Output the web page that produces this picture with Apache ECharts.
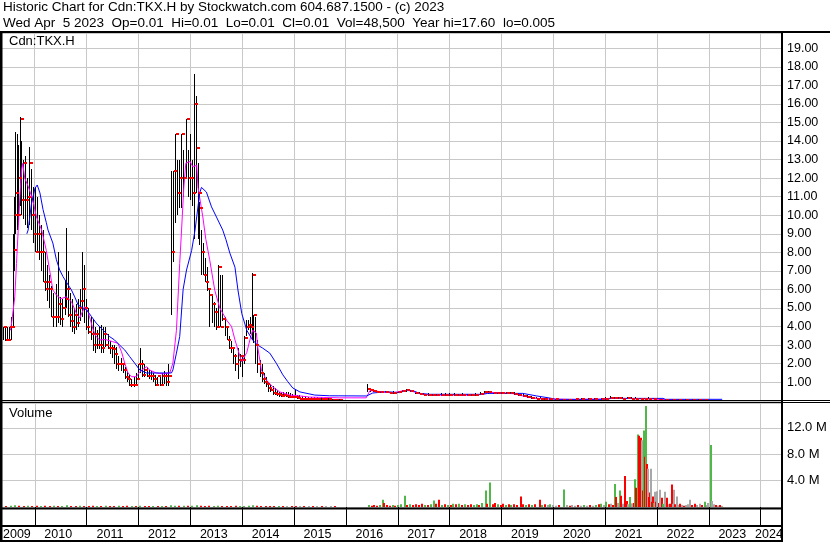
<!DOCTYPE html>
<html><head><meta charset="utf-8">
<script src="https://cdn.jsdelivr.net/npm/echarts@6.0.0/dist/echarts.min.js"></script>
<style>html,body{margin:0;padding:0;background:#fff}#c{width:830px;height:543px}</style>
</head><body><div id="c"></div>
<script>
// ---------------- DATA ----------------
const headerLine1 = 'Historic Chart for Cdn:TKX.H by Stockwatch.com 604.687.1500 - (c) 2023';
const headerLine2 = 'Wed Apr  5 2023  Op=0.01  Hi=0.01  Lo=0.01  Cl=0.01  Vol=48,500  Year hi=17.60  lo=0.005';
const symbolLabel = 'Cdn:TKX.H';
const volumeLabel = 'Volume';

const yearTicks = ['2010-01-01','2011-01-01','2012-01-01','2013-01-01','2014-01-01','2015-01-01','2016-01-01','2017-01-01','2018-01-01','2019-01-01','2020-01-01','2021-01-01','2022-01-01','2023-01-01','2024-01-01'];
const yearLabelAt = ['2009-08-28','2010-06-15','2011-06-15','2012-06-15','2013-06-15','2014-06-15','2015-06-15','2016-06-15','2017-06-15','2018-06-15','2019-06-15','2020-06-15','2021-06-15','2022-06-15','2023-06-15','2024-02-28'];
const xStart = '2009-05-18';
const xEnd = '2024-05-23';

const barDates = [
'2009-05-22','2009-06-05','2009-06-19','2009-07-03','2009-07-17','2009-07-31','2009-08-10','2009-08-21','2009-08-31','2009-09-10','2009-09-20','2009-09-30','2009-10-12','2009-10-26','2009-11-09','2009-11-23','2009-12-07','2009-12-21',
'2010-01-04','2010-01-18','2010-02-01','2010-02-15','2010-03-01','2010-03-15','2010-04-01','2010-04-15','2010-05-01','2010-05-15','2010-06-01','2010-06-15','2010-07-01','2010-07-15','2010-08-01','2010-08-12','2010-08-25','2010-09-08','2010-09-22','2010-10-06','2010-10-20','2010-11-03','2010-11-17','2010-12-01','2010-12-15',
'2011-01-01','2011-01-15','2011-02-01','2011-02-15','2011-03-01','2011-03-15','2011-04-01','2011-04-15','2011-05-01','2011-05-15','2011-06-01','2011-06-15','2011-07-01','2011-07-15','2011-08-01','2011-08-15','2011-09-01','2011-09-15','2011-10-01','2011-10-15','2011-11-01','2011-11-15','2011-12-01','2011-12-15',
'2012-01-01','2012-01-15','2012-02-01','2012-02-15','2012-03-01','2012-03-15','2012-04-01','2012-04-15','2012-05-01','2012-05-15','2012-06-01','2012-06-15','2012-07-01','2012-07-15','2012-08-01','2012-08-20','2012-09-03','2012-09-17','2012-10-01','2012-10-15','2012-11-01','2012-11-15','2012-12-01','2012-12-15',
'2013-01-01','2013-01-15','2013-02-01','2013-02-12','2013-02-25','2013-03-08','2013-03-20','2013-04-01','2013-04-15','2013-05-01','2013-05-15','2013-06-01','2013-06-15','2013-07-01','2013-07-15','2013-08-01','2013-08-15','2013-09-01','2013-09-15','2013-10-01','2013-10-15','2013-11-01','2013-11-15','2013-12-01','2013-12-15',
'2014-01-01','2014-01-15','2014-02-01','2014-02-15','2014-03-01','2014-03-10','2014-03-22','2014-04-05','2014-04-20','2014-05-05','2014-05-20','2014-06-05','2014-06-20','2014-07-05','2014-07-20','2014-08-05','2014-08-20','2014-09-05','2014-09-20','2014-10-05','2014-10-20','2014-11-05','2014-11-20','2014-12-05','2014-12-20',
'2015-01-10','2015-01-25','2015-02-10','2015-03-01','2015-03-20','2015-04-10','2015-05-01','2015-05-25','2015-06-15','2015-07-10','2015-08-05','2015-09-01','2015-09-25','2015-10-20','2015-11-15',
'2016-06-01','2016-06-20','2016-07-10','2016-08-01','2016-09-01','2016-10-01','2016-11-01','2016-12-01',
'2017-01-01','2017-02-01','2017-03-01','2017-04-01','2017-05-01','2017-06-01','2017-07-01','2017-08-01','2017-09-01','2017-10-01','2017-11-01','2017-12-01',
'2018-01-01','2018-02-01','2018-03-01','2018-04-01','2018-05-01','2018-06-01','2018-07-01','2018-08-01','2018-09-01','2018-10-01','2018-11-01','2018-12-01',
'2019-01-01','2019-02-01','2019-03-01','2019-04-01','2019-05-01','2019-06-01','2019-07-01','2019-08-01','2019-09-01','2019-10-01','2019-11-01','2019-12-01',
'2020-01-15','2020-03-01','2020-04-15','2020-06-01','2020-07-15','2020-09-01','2020-10-15','2020-12-01',
'2021-01-01','2021-02-01','2021-03-01','2021-04-01','2021-05-01','2021-06-01','2021-07-01','2021-08-01','2021-09-01','2021-10-01','2021-11-01','2021-12-01',
'2022-01-15','2022-03-01','2022-04-15','2022-06-01','2022-07-15','2022-09-01','2022-10-15','2022-12-01',
'2023-01-15','2023-03-01','2023-04-05'];

const barHigh = [
4.0,4.0,4.0,4.0,4.5,9.0,11.0,14.5,14.4,13.8,15.3,14.0,13.0,13.2,12.0,13.7,12.5,11.5,
11.5,11.0,10.0,9.5,9.2,8.0,7.3,6.8,6.2,5.8,6.3,8.0,5.6,5.5,6.5,9.3,7.0,5.8,5.5,5.0,5.2,5.5,6.0,8.0,7.3,
5.5,5.0,4.5,4.4,4.0,3.8,4.0,4.1,4.0,4.0,3.6,3.2,3.0,3.0,2.9,2.4,2.3,2.0,1.8,1.6,1.4,1.2,1.3,1.5,
2.0,2.85,2.2,2.0,1.8,1.65,1.6,1.5,1.4,1.3,1.4,1.5,1.6,1.5,2.0,12.4,12.4,14.4,13.0,13.0,14.4,13.5,15.2,13.5,
14.4,13.0,17.6,16.4,12.8,10.7,9.2,8.5,7.7,7.2,6.0,5.7,5.3,5.0,7.3,6.8,6.8,4.5,4.0,3.5,3.2,2.9,2.5,2.85,2.5,
2.4,3.5,4.35,4.35,4.5,6.9,4.6,4.5,3.3,2.2,2.0,1.5,1.3,1.0,0.9,0.8,0.7,0.6,0.5,0.5,0.45,0.5,0.45,0.4,0.35,
0.65,0.3,0.3,0.25,0.25,0.2,0.2,0.18,0.2,0.2,0.15,0.15,0.12,0.12,0.12,
0.9,0.7,0.6,0.58,0.55,0.55,0.5,0.55,
0.55,0.6,0.65,0.6,0.5,0.45,0.42,0.4,0.38,0.38,0.4,0.4,
0.4,0.42,0.38,0.4,0.38,0.38,0.4,0.45,0.52,0.55,0.5,0.5,
0.48,0.5,0.48,0.45,0.42,0.35,0.3,0.25,0.2,0.18,0.15,0.14,
0.12,0.12,0.1,0.12,0.15,0.14,0.14,0.15,
0.2,0.25,0.22,0.2,0.2,0.22,0.2,0.18,0.16,0.15,0.18,0.16,
0.12,0.1,0.08,0.07,0.06,0.05,0.05,0.04,
0.03,0.02,0.01];

const barLow = [
3.3,3.2,3.3,3.2,3.3,4.0,7.0,9.0,9.2,9.5,10.5,10.0,9.8,9.5,9.3,9.5,9.2,8.5,
8.0,8.0,7.6,7.0,6.4,5.9,5.4,5.0,4.5,4.0,4.0,4.2,4.1,4.0,4.6,5.0,4.5,4.0,3.7,3.6,3.8,4.0,4.3,4.5,4.2,
3.8,3.6,3.3,2.7,2.6,2.8,2.8,2.6,2.6,2.9,2.8,2.5,2.3,2.0,1.7,1.6,1.6,1.5,1.2,1.0,0.8,0.75,0.75,0.8,
1.2,1.5,1.3,1.3,1.3,1.2,1.1,1.0,0.8,0.8,0.8,0.8,0.9,0.8,0.8,4.6,7.5,9.6,10.0,10.4,10.4,11.0,12.0,11.0,
10.8,10.5,8.7,11.2,8.7,8.4,6.8,6.8,6.4,5.9,4.0,4.2,4.0,3.8,4.0,4.0,4.3,3.5,3.3,2.8,2.6,2.0,1.6,1.2,1.8,
1.3,2.0,3.5,3.8,3.6,3.3,3.1,2.0,1.5,1.3,1.0,0.9,0.75,0.5,0.45,0.3,0.3,0.25,0.2,0.2,0.2,0.2,0.15,0.15,0.15,
0.15,0.1,0.1,0.1,0.08,0.08,0.08,0.08,0.08,0.06,0.06,0.06,0.05,0.05,0.05,
0.5,0.45,0.45,0.45,0.42,0.4,0.4,0.38,
0.4,0.45,0.48,0.45,0.38,0.35,0.3,0.28,0.26,0.27,0.28,0.28,
0.28,0.28,0.27,0.28,0.26,0.27,0.28,0.3,0.35,0.38,0.35,0.35,
0.36,0.36,0.34,0.3,0.28,0.2,0.15,0.12,0.1,0.08,0.07,0.06,
0.05,0.05,0.04,0.05,0.06,0.05,0.06,0.06,
0.07,0.1,0.1,0.1,0.09,0.1,0.1,0.09,0.08,0.08,0.08,0.08,
0.05,0.04,0.03,0.03,0.02,0.02,0.02,0.015,
0.01,0.005,0.01];

const barClose = [
4.0,3.3,3.3,4.0,4.0,8.1,10.0,11.2,10.0,12.0,15.2,10.8,12.8,10.8,11.0,12.8,10.0,9.0,
8.0,9.0,8.0,8.0,6.4,6.0,6.4,6.0,4.5,4.5,4.5,5.2,4.4,5.0,5.5,6.0,4.6,4.3,4.0,4.6,4.2,5.0,5.4,6.0,5.0,
4.0,3.7,3.6,3.0,3.6,3.0,3.0,2.85,3.6,3.0,2.85,2.85,2.8,2.5,2.0,2.0,2.0,1.65,1.3,1.2,0.85,0.85,0.85,1.2,
2.0,2.0,1.4,1.65,1.34,1.34,1.34,1.2,0.85,1.34,0.85,1.34,1.34,1.0,1.34,8.0,12.4,14.4,11.2,12.0,14.4,12.0,15.2,12.0,
12.0,11.2,16.0,13.6,11.2,10.4,8.0,6.8,6.4,6.0,5.7,5.2,4.8,4.0,7.2,4.0,4.4,4.0,3.28,2.85,2.85,2.4,2.0,2.2,2.4,
2.2,3.4,4.0,4.1,4.0,6.8,4.6,3.0,2.0,1.5,1.2,1.0,0.9,0.7,0.6,0.4,0.35,0.35,0.3,0.25,0.3,0.25,0.2,0.2,0.2,
0.2,0.15,0.12,0.12,0.1,0.1,0.1,0.1,0.1,0.08,0.08,0.08,0.06,0.06,0.06,
0.65,0.6,0.53,0.5,0.48,0.45,0.44,0.42,
0.5,0.55,0.58,0.55,0.42,0.38,0.33,0.3,0.3,0.3,0.32,0.32,
0.32,0.33,0.3,0.31,0.3,0.3,0.32,0.36,0.45,0.45,0.42,0.43,
0.42,0.42,0.4,0.38,0.33,0.25,0.18,0.15,0.12,0.1,0.09,0.08,
0.08,0.07,0.07,0.08,0.08,0.08,0.09,0.09,
0.12,0.15,0.14,0.13,0.12,0.13,0.12,0.11,0.1,0.1,0.11,0.1,
0.07,0.06,0.05,0.04,0.03,0.03,0.03,0.02,
0.015,0.01,0.01];

// short moving average (magenta)
const maFastDates = ['2009-07-16','2009-07-23','2009-08-16','2009-08-28','2009-09-09','2009-09-21','2009-10-02','2009-10-11','2009-10-25','2009-11-16','2009-11-30','2009-12-21',
'2010-01-16','2010-02-21','2010-03-26','2010-04-18','2010-05-11','2010-06-05','2010-07-05','2010-08-14','2010-09-19','2010-10-23','2010-11-16','2010-12-21',
'2011-01-14','2011-02-19','2011-03-12','2011-04-05','2011-05-17','2011-07-05','2011-08-12','2011-09-06','2011-09-29','2011-10-22','2011-11-15','2011-12-20',
'2012-01-13','2012-02-29','2012-03-22','2012-05-08','2012-06-22','2012-08-11','2012-09-02','2012-09-27','2012-10-20','2012-11-02','2012-11-18','2012-12-02',
'2013-01-01','2013-01-21','2013-02-17','2013-02-26','2013-04-01','2013-04-22','2013-05-19','2013-06-24','2013-07-29','2013-09-15','2013-10-20','2013-11-13','2013-12-18','2013-12-30',
'2014-02-04','2014-02-26','2014-03-17','2014-04-13','2014-04-22','2014-05-18','2014-06-22','2014-08-06','2014-09-24','2014-12-04',
'2015-02-13','2015-04-23','2015-08-01','2015-11-21','2016-05-25','2016-06-20','2016-08-01','2016-10-01','2016-12-01',
'2017-02-01','2017-03-15','2017-05-01','2017-07-01','2017-10-01','2018-01-01','2018-05-01','2018-08-01','2018-10-01',
'2019-01-01','2019-04-01','2019-06-01','2019-08-01','2019-11-01','2020-06-01','2020-12-01','2021-02-15','2021-07-01','2021-12-01',
'2022-03-01','2022-09-01','2023-04-05'];
const maFast = [3.8,4.1,5.6,7.4,9.2,11.0,12.4,12.8,12.0,11.6,11.3,10.8,
9.9,9.2,8.1,7.05,5.97,5.7,5.5,5.6,5.34,4.73,4.46,5.07,
4.8,3.82,3.46,3.28,3.3,3.19,3.1,2.65,2.03,1.5,1.3,1.3,
1.57,1.84,1.66,1.5,1.45,1.5,2.03,3.8,7.4,9.2,11.5,12.8,
12.9,12.6,12.7,11.5,9.9,8.7,7.6,5.95,5.0,4.35,4.0,3.28,2.4,2.1,
2.6,3.28,3.8,3.65,2.9,1.66,1.12,0.75,0.48,0.31,
0.26,0.2,0.18,0.16,0.16,0.55,0.52,0.46,0.43,
0.53,0.57,0.47,0.35,0.3,0.32,0.3,0.34,0.45,
0.43,0.38,0.26,0.16,0.1,0.07,0.09,0.14,0.12,0.1,
0.06,0.03,0.01];

// long moving average (blue)
const maSlowDates = ['2009-11-09','2009-11-18','2009-12-12','2010-01-05','2010-01-21','2010-02-09','2010-03-03','2010-03-26','2010-04-07','2010-05-11','2010-06-05','2010-06-28','2010-07-21','2010-08-14','2010-09-19','2010-10-12','2010-11-05','2010-12-10',
'2011-01-03','2011-02-08','2011-03-12','2011-04-28','2011-06-14','2011-07-19','2011-08-24','2011-09-29','2011-11-03','2011-12-08',
'2012-01-13','2012-02-29','2012-06-01','2012-08-23','2012-09-02','2012-09-27','2012-10-20','2012-11-13','2012-12-07',
'2013-01-12','2013-02-05','2013-03-10','2013-03-22','2013-04-26','2013-06-01','2013-07-06','2013-08-19','2013-09-10','2013-10-08','2013-11-13','2013-12-04','2013-12-31',
'2014-02-04','2014-03-17','2014-04-22','2014-05-27','2014-07-16','2014-09-02','2014-10-16','2014-11-20','2014-12-25',
'2015-02-13','2015-05-28','2015-09-11','2016-05-27','2016-07-10','2016-10-15','2017-01-17','2017-02-22','2017-04-17','2017-06-05','2017-08-15',
'2018-08-23','2018-09-28','2019-06-01','2019-09-08','2019-12-08','2020-01-20','2021-01-15','2021-02-10','2022-02-12','2022-03-01','2023-04-05'];
const maSlow = [9.0,9.2,10.65,11.45,11.63,11.2,10.3,9.6,9.2,8.5,7.6,7.05,6.7,6.4,5.97,5.6,5.16,5.0,
4.9,4.53,4.19,3.82,3.46,3.28,3.0,2.74,2.38,2.03,
1.66,1.5,1.5,1.5,1.66,2.57,3.46,6.0,7.05,
8.1,9.2,11.2,11.5,11.25,10.45,9.9,9.2,8.7,7.96,7.2,5.97,4.7,
3.8,3.28,3.0,2.84,2.57,2.0,1.4,1.03,0.69,
0.48,0.31,0.27,0.26,0.42,0.49,0.44,0.55,0.55,0.4,0.35,
0.35,0.4,0.4,0.26,0.15,0.08,0.08,0.13,0.13,0.08,0.08];

// volume in millions of shares; volDir: 1 up week (green), -1 down week (red), 0 unchanged (grey)
const volDates = [
'2009-06-15','2009-07-15','2009-08-15','2009-09-15','2009-10-15','2009-11-15','2009-12-15',
'2010-01-15','2010-02-15','2010-03-15','2010-04-15','2010-05-15','2010-06-15','2010-07-15','2010-08-15','2010-09-15','2010-10-15','2010-11-15','2010-12-15',
'2011-01-15','2011-02-15','2011-03-15','2011-04-15','2011-05-15','2011-06-15','2011-07-15','2011-08-15','2011-09-15','2011-10-15','2011-11-15','2011-12-15',
'2012-01-15','2012-02-15','2012-03-15','2012-04-15','2012-05-15','2012-06-15','2012-07-15','2012-08-15','2012-09-15','2012-10-15','2012-11-15','2012-12-15',
'2013-01-15','2013-02-15','2013-03-15','2013-04-15','2013-05-15','2013-06-15','2013-07-15','2013-08-15','2013-09-15','2013-10-15','2013-11-15','2013-12-15',
'2014-01-15','2014-02-15','2014-03-15','2014-04-15','2014-05-15','2014-06-15','2014-07-15','2014-08-15','2014-09-15','2014-10-15','2014-11-15','2014-12-15',
'2015-01-15','2015-02-15','2015-03-15','2015-04-15','2015-05-15','2015-06-15','2015-07-15','2015-08-15','2015-09-15','2015-10-15',
'2016-06-10','2016-07-01','2016-07-20','2016-08-10','2016-09-01','2016-09-22','2016-09-28','2016-10-15','2016-11-05','2016-11-25','2016-12-15',
'2017-01-05','2017-01-25','2017-02-22','2017-03-10','2017-03-30','2017-04-20','2017-05-10','2017-06-01','2017-06-20','2017-07-10','2017-07-30','2017-08-20','2017-09-13','2017-09-28','2017-10-18','2017-11-08','2017-11-28','2017-12-18',
'2018-01-08','2018-01-28','2018-02-18','2018-03-10','2018-03-30','2018-04-20','2018-05-10','2018-05-30','2018-06-20','2018-07-10','2018-07-30','2018-08-20','2018-09-14','2018-09-24','2018-10-12','2018-10-30','2018-11-17','2018-12-07','2018-12-27',
'2019-01-12','2019-02-01','2019-02-20','2019-03-12','2019-04-01','2019-04-20','2019-05-17','2019-06-05','2019-06-25','2019-07-15','2019-08-05','2019-08-25','2019-09-29','2019-10-15','2019-11-05','2019-11-25','2019-12-08','2019-12-28',
'2020-01-18','2020-02-08','2020-03-15','2020-04-05','2020-04-25','2020-05-15','2020-06-05','2020-06-25','2020-07-15','2020-08-05','2020-08-25','2020-09-15','2020-10-05','2020-10-25','2020-11-15','2020-12-05','2020-12-25',
'2021-01-07','2021-01-25','2021-02-10','2021-02-25','2021-03-09','2021-03-21','2021-04-03','2021-04-14','2021-04-25','2021-05-08','2021-05-18','2021-06-01','2021-06-12','2021-06-23','2021-07-05','2021-07-12','2021-07-20','2021-07-28','2021-08-09','2021-08-15','2021-08-21','2021-08-28','2021-09-03','2021-09-09','2021-09-18','2021-09-24','2021-10-01','2021-10-08','2021-10-15','2021-10-22','2021-11-01','2021-11-06','2021-11-12','2021-11-19','2021-11-25','2021-12-01','2021-12-09','2021-12-17','2021-12-25',
'2022-01-03','2022-01-12','2022-01-22','2022-02-04','2022-02-14','2022-02-27','2022-03-13','2022-03-25','2022-04-05','2022-04-13','2022-04-21','2022-04-29','2022-05-08','2022-05-18','2022-06-01','2022-06-11','2022-06-25','2022-07-10','2022-07-25','2022-08-10','2022-08-20','2022-09-05','2022-09-25','2022-10-10','2022-10-30','2022-11-15','2022-12-04','2022-12-20','2022-12-27',
'2023-01-14','2023-01-25','2023-02-05','2023-02-18','2023-03-05','2023-03-20','2023-04-05'];
const volM = [
0.15,0.2,0.25,0.2,0.15,0.2,0.15,
0.2,0.15,0.2,0.15,0.2,0.15,0.15,0.25,0.15,0.15,0.2,0.15,
0.15,0.2,0.15,0.15,0.2,0.15,0.15,0.2,0.15,0.2,0.15,0.15,
0.2,0.15,0.15,0.15,0.15,0.15,0.15,0.25,0.2,0.2,0.2,0.2,
0.2,0.25,0.2,0.15,0.2,0.15,0.2,0.15,0.15,0.15,0.2,0.15,
0.15,0.2,0.25,0.2,0.15,0.15,0.15,0.15,0.15,0.15,0.15,0.15,
0.15,0.15,0.15,0.1,0.1,0.1,0.1,0.1,0.1,0.1,
0.3,0.2,0.3,0.2,0.3,1.1,0.6,0.3,0.2,0.3,0.2,
0.3,0.4,1.7,0.3,0.4,0.3,0.4,0.3,0.5,0.3,0.3,0.4,1.0,0.5,1.1,0.3,0.4,0.3,
0.3,0.5,0.4,0.5,0.3,0.4,0.3,0.4,0.3,0.4,0.3,0.6,2.5,0.5,3.7,0.4,0.6,0.4,0.3,
0.5,0.3,0.4,0.3,0.4,0.3,1.6,0.4,0.3,0.4,0.3,0.4,1.1,0.3,0.4,0.3,0.4,0.3,
0.2,0.3,2.65,0.3,0.2,0.3,0.2,0.3,0.2,0.3,0.2,0.3,0.2,0.3,0.4,0.5,0.3,
0.8,0.4,0.5,0.3,3.5,1.5,0.6,2.5,1.7,0.5,4.7,0.9,0.4,1.5,0.5,0.5,0.6,4.2,2.9,1.0,11.0,10.8,3.0,10.5,10.1,2.5,11.6,7.6,15.3,6.5,5.8,1.5,2.2,5.8,0.8,1.6,0.6,2.3,0.8,
2.4,0.6,2.6,1.4,0.5,2.3,1.4,0.4,0.5,3.4,0.5,2.6,0.4,1.6,0.3,0.5,0.3,0.2,0.3,0.4,1.1,0.3,0.5,0.3,0.5,0.3,0.8,0.3,0.6,
9.4,0.9,0.4,0.3,0.2,0.3,0.05];
const volDir = [
-1,1,1,-1,-1,1,-1,
-1,1,-1,-1,1,-1,1,1,-1,-1,1,-1,
-1,-1,1,-1,1,-1,-1,1,-1,-1,1,-1,
1,-1,-1,1,-1,1,-1,1,1,-1,1,-1,
1,1,-1,-1,-1,1,1,-1,-1,-1,-1,1,
1,1,1,-1,-1,-1,-1,-1,1,-1,0,-1,
-1,0,-1,0,-1,0,-1,0,0,-1,
1,-1,-1,-1,1,1,-1,-1,-1,1,-1,
1,1,1,-1,1,-1,-1,-1,-1,1,-1,1,1,-1,-1,1,-1,1,
-1,1,-1,1,-1,1,-1,-1,1,1,-1,1,1,-1,1,-1,-1,1,-1,
-1,1,-1,1,-1,-1,-1,-1,1,-1,1,-1,-1,1,-1,0,1,0,
0,-1,1,0,-1,0,0,-1,0,1,0,-1,0,1,-1,1,0,
1,-1,0,-1,1,-1,0,1,-1,0,-1,-1,0,1,-1,0,-1,1,-1,-1,1,-1,-1,-1,0,-1,1,-1,1,-1,0,-1,-1,0,-1,-1,1,0,-1,
0,-1,0,-1,1,0,-1,0,-1,-1,0,0,-1,0,0,-1,0,-1,0,0,0,-1,-1,0,0,-1,1,0,0,
1,0,0,-1,0,-1,0];

// ---------------- CHART ----------------
const FONT = "'Liberation Sans', Arial, sans-serif";
const GRID = '#c8c8c8';
const VOL_COLORS = {'1': '#4fb848', '-1': '#ff0000', '0': '#a8a8a8'};
const ts = (s) => Date.parse(s + 'T00:00:00Z');

const priceData = barDates.map((d, i) => [ts(d), barHigh[i], barLow[i], barClose[i]]);
const fastData = maFastDates.map((d, i) => [ts(d), maFast[i]]);
const slowData = maSlowDates.map((d, i) => [ts(d), maSlow[i]]);
const volData = volDates.map((d, i) => [ts(d), volM[i], volDir[i]]);

function renderPriceBar(params, api) {
  const hi = api.coord([api.value(0), api.value(1)]);
  const lo = api.coord([api.value(0), api.value(2)]);
  const xi = Math.round(hi[0]);
  const yTop = Math.round(Math.min(hi[1], lo[1] - 1));
  const yBot = Math.round(lo[1]);
  return {type: 'rect', shape: {x: xi, y: yTop, width: 1, height: Math.max(1, yBot - yTop)}, style: {fill: '#000'}};
}

function renderCloseTick(params, api) {
  const cl = api.coord([api.value(0), api.value(3)]);
  const xi = Math.round(cl[0]);
  return {type: 'rect', shape: {x: xi + 1, y: Math.round(cl[1]) - 1, width: 3, height: 2}, style: {fill: '#ff0000'}};
}

function renderVolBar(params, api) {
  const top = api.coord([api.value(0), api.value(1)]);
  const base = api.coord([api.value(0), 0]);
  const x = Math.round(top[0]);
  const h = Math.max(1, base[1] - top[1]);
  return {
    type: 'rect',
    shape: {x: x - 1, y: base[1] - h, width: 2, height: h},
    style: {fill: VOL_COLORS[String(api.value(2))]}
  };
}

const txt = (size) => ({fontSize: size, fontWeight: 'normal', color: '#000', fontFamily: FONT});
const frame = (x1, y1, x2, y2, w) => ({type: 'line', silent: true, z: 100,
  shape: {x1, y1, x2, y2}, style: {stroke: '#000', lineWidth: w}});

const xMin = ts(xStart), xMax = ts(xEnd);
const tickVals = yearTicks.map(ts);
const labelVals = yearLabelAt.map(ts);

const option = {
  animation: false,
  backgroundColor: '#ffffff',
  textStyle: {fontFamily: FONT},
  title: [
    {text: headerLine1, left: 3, top: 0, padding: 0, textStyle: txt(13.5)},
    {text: headerLine2, left: 3, top: 16, padding: 0, textStyle: txt(13.5)},
    {text: symbolLabel, left: 9, top: 35, padding: 0, textStyle: txt(13)},
    {text: volumeLabel, left: 9, top: 407, padding: 0, textStyle: txt(13)}
  ],
  grid: [
    {left: 2, right: 49, top: 33, height: 367.8},
    {left: 2, right: 49, top: 403, height: 104}
  ],
  xAxis: [
    {type: 'value', gridIndex: 0, min: xMin, max: xMax, scale: true,
      axisLine: {show: false}, axisTick: {show: false, customValues: tickVals},
      axisLabel: {show: false}, splitLine: {show: true, lineStyle: {color: GRID, width: 1}}},
    {type: 'value', gridIndex: 1, min: xMin, max: xMax, scale: true,
      axisLine: {show: false},
      axisTick: {show: true, customValues: tickVals, length: 19, lineStyle: {color: '#000', width: 1}},
      axisLabel: {show: true, customValues: labelVals, margin: 21, fontSize: 12.5, color: '#000', fontFamily: FONT,
        formatter: (v) => String(new Date(v).getUTCFullYear())},
      splitLine: {show: true, lineStyle: {color: GRID, width: 1}}}
  ],
  yAxis: [
    {type: 'value', gridIndex: 0, position: 'right', min: 0, max: 19.82, interval: 1,
      axisLine: {show: false}, axisTick: {show: false},
      axisLabel: {margin: 6, fontSize: 12.5, color: '#000', fontFamily: FONT,
        formatter: (v) => (v >= 1 && v <= 19 && Math.abs(v - Math.round(v)) < 1e-6) ? v.toFixed(2) : ''},
      splitLine: {show: true, lineStyle: {color: GRID, width: 1}}},
    {type: 'value', gridIndex: 1, position: 'right', min: 0, max: 15.76, interval: 4,
      axisLine: {show: false}, axisTick: {show: false},
      axisLabel: {margin: 6, fontSize: 13, color: '#000', fontFamily: FONT,
        formatter: (v) => (v > 0 && v < 15 && Math.abs(v / 4 - Math.round(v / 4)) < 1e-6) ? v.toFixed(1) + ' M' : ''},
      splitLine: {show: true, lineStyle: {color: GRID, width: 1}}}
  ],
  series: [
    {type: 'custom', name: 'price', xAxisIndex: 0, yAxisIndex: 0, data: priceData,
      encode: {x: 0, y: [1, 2, 3]}, renderItem: renderPriceBar, clip: true, z: 3},
    {type: 'line', name: 'ma1', xAxisIndex: 0, yAxisIndex: 0, data: fastData, showSymbol: false, symbol: 'none',
      lineStyle: {color: '#ff00ff', width: 1}, clip: true, z: 4},
    {type: 'line', name: 'ma2', xAxisIndex: 0, yAxisIndex: 0, data: slowData, showSymbol: false, symbol: 'none',
      lineStyle: {color: '#0000ff', width: 1}, clip: true, z: 5},
    {type: 'custom', name: 'close', xAxisIndex: 0, yAxisIndex: 0, data: priceData,
      encode: {x: 0, y: 3}, renderItem: renderCloseTick, clip: true, z: 6},
    {type: 'custom', name: 'volume', xAxisIndex: 1, yAxisIndex: 1, data: volData,
      encode: {x: 0, y: 1}, renderItem: renderVolBar, clip: true, z: 3}
  ],
  graphic: {elements: [
    frame(0, 32, 830, 32, 2),
    frame(1.25, 31, 1.25, 542, 2.5),
    frame(782, 31, 782, 542, 2),
    frame(0, 400.5, 830, 400.5, 1),
    frame(0, 402.5, 830, 402.5, 1),
    frame(0, 508.5, 782, 508.5, 2),
    frame(0, 526, 782, 526, 2),
    frame(0, 541, 782, 541, 2)
  ]}
};

const chart = echarts.init(document.getElementById('c'), null, {renderer: 'canvas'});
chart.setOption(option);
</script>
</body></html>
